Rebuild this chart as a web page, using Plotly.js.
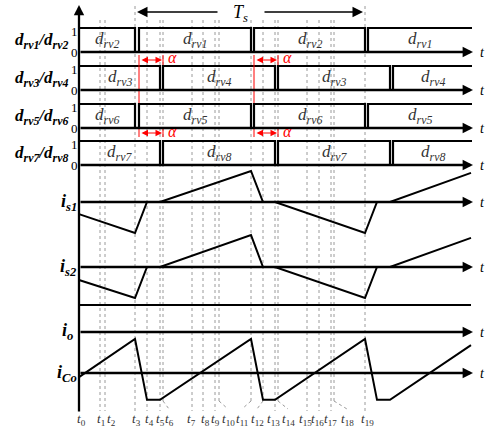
<!DOCTYPE html>
<html><head><meta charset="utf-8">
<script src="https://cdn.plot.ly/plotly-3.0.1.min.js"></script>
<style>html,body{margin:0;padding:0;background:#fff;}</style>
</head><body><div id="chart" style="width:487px;height:428px;"></div>
<script>
// ---------------- DATA ----------------
const tickNums  = ['0','1','2','3','4','5','6','7','8','9','10','11','12','13','14','15','16','17','18','19'];
const tickTimes = [0,21,26,56,68,81,84,113,124,136,140,172,184,196,199,228,240,252,255,286];

// gate signals (1 = on, 0 = dead-time notch)
const gateA_t = [0,56,60,172,175,286,289,393];
const gateB_t = [0,81,84,196,199,311,314,393];
const gate_v  = [1,0,1,0,1,0,1,1];

const rowLabels = ['d<sub>rv1</sub>/d<sub>rv2</sub>','d<sub>rv3</sub>/d<sub>rv4</sub>','d<sub>rv5</sub>/d<sub>rv6</sub>','d<sub>rv7</sub>/d<sub>rv8</sub>'];
const segLabels = [['rv2','rv1','rv2','rv1'],['rv3','rv4','rv3','rv4'],['rv6','rv5','rv6','rv5'],['rv7','rv8','rv7','rv8']];

// currents (normalised to peak)
const curT = [0,56,68,81,172,184,196,286,298,311,392];
const is1  = [-0.39,-1,0,0,1,0,0,-1,0,0,0.94];
const is2  = [-0.42,-1,0,0,1.03,0,0,-1,0,0,0.94];
const iCo  = [-0.12,1,-0.79,-0.79,1,-0.79,-0.79,1,-0.79,-0.79,0.82];
const curLabels = ['i<sub>s1</sub>','i<sub>s2</sub>','i<sub>Co</sub>'];

// ---------------- LAYOUT ----------------
const W=487,H=428,X0=79;
const yP = py => 1-py/H;
const xD = px => px-X0;
const rowPix = [[28,52],[66,90],[104,128],[141,165]];   // pixel of value 1, value 0
const curPix = [[202,31],[267,31],[373,34]];            // zero pixel, px per unit
const SERIF = 'Liberation Serif, Times New Roman, serif';

const layout = {
  width:W,height:H,margin:{l:0,r:0,t:0,b:0},
  paper_bgcolor:'#fff',plot_bgcolor:'rgba(0,0,0,0)',showlegend:false,
  xaxis:{range:[-X0,W-X0],visible:false,fixedrange:true},
  annotations:[],shapes:[]
};
const axId = k => k===0?'y':'y'+(k+1);
const axKey = k => k===0?'yaxis':'yaxis'+(k+1);
function setAxis(k,zeroPx,s){
  const a={range:[-(H-zeroPx)/s, zeroPx/s],visible:false,fixedrange:true,domain:[0,1]};
  if(k>0) a.overlaying='y';
  layout[axKey(k)]=a;
}
rowPix.forEach((p,i)=>setAxis(i,p[1],p[1]-p[0]));
curPix.forEach((p,i)=>setAxis(4+i,p[0],p[1]));

const traces=[];
const gateSets=[gateA_t,gateB_t,gateA_t,gateB_t];
gateSets.forEach((g,i)=>{
  traces.push({x:g,y:gate_v,mode:'lines',line:{shape:'hv',color:'#000',width:2.2},yaxis:axId(i),hoverinfo:'skip'});
});
[is1,is2,iCo].forEach((c,i)=>{
  traces.push({x:curT,y:c,mode:'lines',line:{color:'#000',width:2},yaxis:axId(4+i),hoverinfo:'skip'});
});

const A=layout.annotations, S=layout.shapes;
function txt(o){ o.showarrow=false; o.xanchor=o.xanchor||'center'; o.yanchor=o.yanchor||'middle'; o.borderpad=0; A.push(o); }
// baseline arrows with 't'
function baseArrow(yref,y){
  A.push({x:xD(473),y:y,xref:'x',yref:yref,ax:0,axref:'x',ay:0,ayref:'pixel',text:'',showarrow:true,arrowhead:2,arrowsize:0.9,arrowwidth:2.3,arrowcolor:'#000'});
  txt({x:xD(482),y:y,xref:'x',yref:yref,text:'<i>t</i>',font:{family:SERIF,size:14,color:'#000'}});
}
for(let k=0;k<7;k++){ baseArrow(axId(k),0); }
baseArrow('paper',yP(332));
// vertical axis
A.push({x:0,y:yP(5),xref:'x',yref:'paper',ax:0,ay:408,text:'',showarrow:true,arrowhead:2,arrowsize:0.9,arrowwidth:2.3,arrowcolor:'#000'});
// separator line
S.push({type:'line',xref:'x',yref:'paper',x0:0,x1:xD(471),y0:yP(305),y1:yP(305),line:{color:'#000',width:2.2}});

// row labels, 1/0 labels, segment labels
rowPix.forEach((p,i)=>{
  const midPx=(p[0]+p[1])/2;
  txt({x:xD(69),y:yP(midPx+1),xref:'x',yref:'paper',text:'<b><i>'+rowLabels[i]+'</i></b>',xanchor:'right',font:{family:SERIF,size:17,color:'#000'}});
  txt({x:xD(74),y:1,xref:'x',yref:axId(i),text:'1',yshift:-3,font:{family:SERIF,size:13,color:'#000'}});
  txt({x:xD(74),y:0,xref:'x',yref:axId(i),text:'0',font:{family:SERIF,size:13,color:'#000'}});
  const g=gateSets[i];
  const starts=[g[0],g[2],g[4],g[6]], ends=[g[1],g[3],g[5],g[7]];
  segLabels[i].forEach((lab,j)=>{
    txt({x:(starts[j]+ends[j])/2,y:0.5,xref:'x',yref:axId(i),text:'<i>d<sub>'+lab+'</sub></i>',font:{family:SERIF,size:17,color:'#333'}});
  });
});
// current labels
const curLabPix=[202,267,373];
curLabels.forEach((l,i)=>{
  txt({x:xD(78),y:yP(curLabPix[i]),xref:'x',yref:'paper',text:'<b><i>'+l+'</i></b>',xanchor:'right',font:{family:SERIF,size:18,color:'#000'}});
});
txt({x:xD(74),y:yP(331),xref:'x',yref:'paper',text:'<b><i>i<sub>o</sub></i></b>',xanchor:'right',font:{family:SERIF,size:18,color:'#000'}});

// Ts arrows
A.push({x:tickTimes[3]+2,y:yP(12),xref:'x',yref:'paper',ax:82,ay:0,text:'',showarrow:true,arrowhead:2,arrowsize:1.4,arrowwidth:1.5,arrowcolor:'#000'});
A.push({x:tickTimes[19]-2,y:yP(12),xref:'x',yref:'paper',ax:-100,ay:0,text:'',showarrow:true,arrowhead:2,arrowsize:1.4,arrowwidth:1.5,arrowcolor:'#000'});
txt({x:xD(240),y:yP(14),xref:'x',yref:'paper',text:'<i>T<sub>s</sub></i>',font:{family:SERIF,size:18,color:'#000'}});

// alpha arrows
const RED='#ff0000';
[[gateA_t[2],gateB_t[2]],[gateA_t[4],gateB_t[4]]].forEach(pair=>{
  [60,133].forEach(py=>{
    A.push({x:pair[1]-1,y:yP(py),xref:'x',yref:'paper',ax:pair[0]+1,axref:'x',ay:0,ayref:'pixel',text:'',showarrow:true,arrowside:'end+start',arrowhead:2,startarrowhead:2,arrowsize:1.3,startarrowsize:1.3,arrowwidth:1,arrowcolor:RED});
    txt({x:pair[1]+9,y:yP(py-2),xref:'x',yref:'paper',text:'<i>α</i>',font:{family:SERIF,size:16,color:RED}});
  });
  S.push({type:'line',xref:'x',yref:'paper',x0:pair[0],x1:pair[0],y0:yP(55),y1:yP(103),line:{color:RED,width:1}});
  S.push({type:'line',xref:'x',yref:'paper',x0:pair[0],x1:pair[0],y0:yP(129),y1:yP(137),line:{color:RED,width:1}});
  S.push({type:'line',xref:'x',yref:'paper',x0:pair[1],x1:pair[1],y0:yP(55),y1:yP(65),line:{color:RED,width:1}});
  S.push({type:'line',xref:'x',yref:'paper',x0:pair[1],x1:pair[1],y0:yP(128),y1:yP(137),line:{color:RED,width:1}});
});

// dashed guide lines and t labels
const labelDx=[2,1,6,1,2,0,6,-1,2,0,9,-9,-6,-2,10,-2,-2,-1,13,2];
const leader=[6,10,11,12,14,18];
const GR='#9a9a9a';
tickTimes.forEach((t,i)=>{
  if(i>0){
    const top=(i===3||i===19)?6:20;
    const hasLeader=leader.includes(i);
    const bot=hasLeader?401:411;
    S.push({type:'line',xref:'x',yref:'paper',x0:t,x1:t,y0:yP(top),y1:yP(bot),line:{color:GR,width:1,dash:'dot'},layer:'below'});
    if(hasLeader){
      S.push({type:'line',xref:'x',yref:'paper',x0:t,x1:t+labelDx[i],y0:yP(401),y1:yP(409),line:{color:GR,width:1,dash:'dot'},layer:'below'});
    }
  }
  txt({x:t+labelDx[i],y:yP(419),xref:'x',yref:'paper',text:'<i>t</i><sub>'+tickNums[i]+'</sub>',font:{family:SERIF,size:13,color:'#333'}});
});

Plotly.newPlot('chart',traces,layout,{staticPlot:true,displayModeBar:false});
</script>
</body></html>
